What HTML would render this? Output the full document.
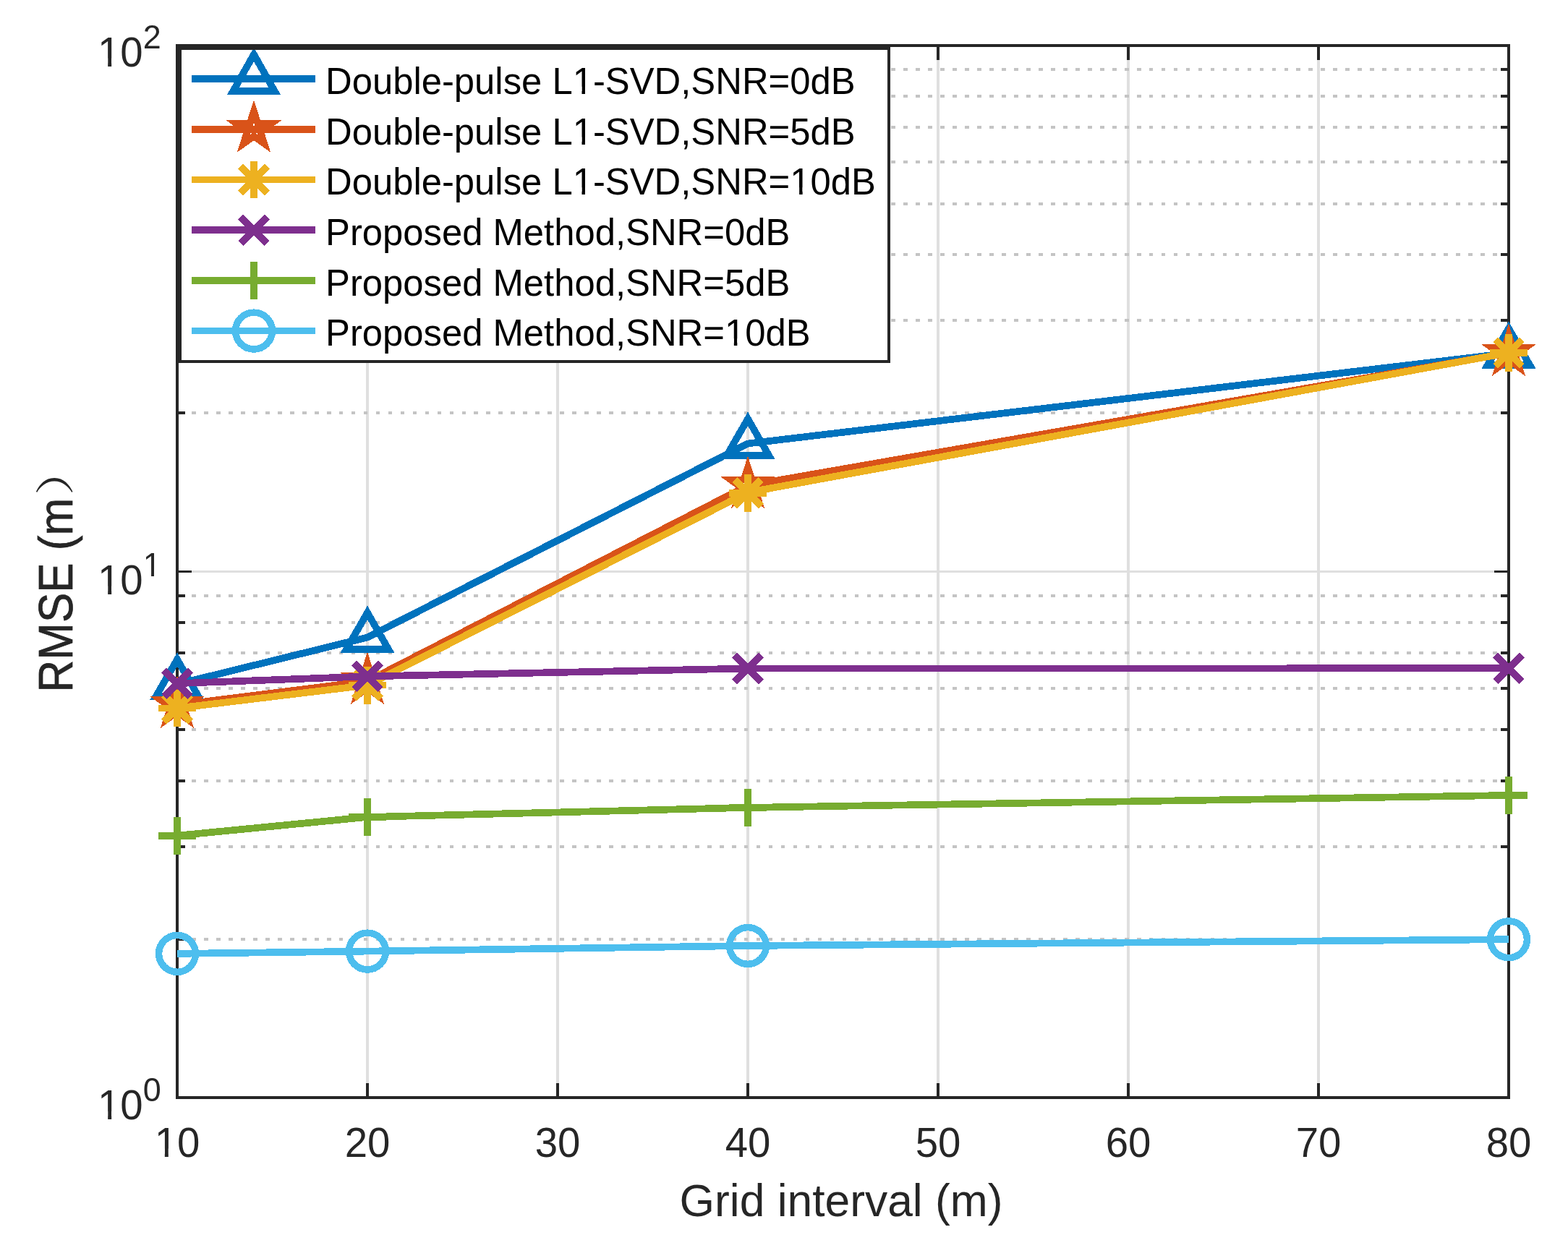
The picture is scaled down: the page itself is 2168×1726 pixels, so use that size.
<!DOCTYPE html>
<html lang="en">
<head>
<meta charset="utf-8">
<title>RMSE (m) vs Grid interval (m)</title>
<style>
html,body{margin:0;padding:0;background:#fff;}
body{width:2168px;height:1726px;overflow:hidden;}
svg{display:block;}
text{font-family:"Liberation Sans","Noto Sans CJK SC",sans-serif;font-kerning:none;}
.tk{font-size:56.4px;fill:#262626;}
.sp{font-size:45px;fill:#262626;}
.lb{font-size:62px;fill:#262626;}
.lg{font-size:50.8px;fill:#000;}
.fw{font-family:"Noto Serif CJK SC","Noto Sans CJK SC",serif;font-size:54px;stroke:none;}
.yl{stroke:#262626;stroke-width:0.7px;}
</style>
</head>
<body>
<svg width="2168" height="1726" viewBox="0 0 2168 1726" role="img" aria-label="RMSE versus grid interval">
<rect x="0" y="0" width="2168" height="1726" fill="#fff"/>
<defs>
<clipPath id="c1"><path d="M-3000 -3000H3000V3000H-3000ZM343.2 -9.92H354.48V0.99H343.2ZM358.97 -9.92H369.24V0.99H358.97Z" clip-rule="evenodd"/></clipPath>
<clipPath id="c2"><path d="M-3000 -3000H3000V3000H-3000ZM343.2 -9.92H354.48V0.99H343.2ZM358.97 -9.92H369.24V0.99H358.97Z" clip-rule="evenodd"/></clipPath>
<clipPath id="c3"><path d="M-3000 -3000H3000V3000H-3000ZM343.2 -9.92H354.48V0.99H343.2ZM358.97 -9.92H369.24V0.99H358.97ZM643.86 -9.92H655.14V0.99H643.86ZM659.63 -9.92H669.9V0.99H659.63Z" clip-rule="evenodd"/></clipPath>
<clipPath id="c4"><path d="M-3000 -3000H3000V3000H-3000ZM553.54 -9.92H564.83V0.99H553.54ZM569.32 -9.92H579.59V0.99H569.32Z" clip-rule="evenodd"/></clipPath>
<clipPath id="c5"><path d="M-3000 -3000H3000V3000H-3000ZM-29.71 -11.02H-17.18V1.1H-29.71ZM-12.2 -11.02H-0.8V1.1H-12.2Z" clip-rule="evenodd"/></clipPath>
<clipPath id="c6"><path d="M-3000 -3000H3000V3000H-3000ZM1.65 -11.02H14.18V1.1H1.65ZM19.17 -11.02H30.57V1.1H19.17Z" clip-rule="evenodd"/></clipPath>
<clipPath id="c7"><path d="M-3000 -3000H3000V3000H-3000ZM1.65 -11.02H14.18V1.1H1.65ZM19.17 -11.02H30.57V1.1H19.17ZM64.05 -33.18H74.05V-23.51H64.05ZM78.03 -33.18H87.12V-23.51H78.03Z" clip-rule="evenodd"/></clipPath>
<clipPath id="c8"><path d="M-3000 -3000H3000V3000H-3000ZM1.65 -11.02H14.18V1.1H1.65ZM19.17 -11.02H30.57V1.1H19.17Z" clip-rule="evenodd"/></clipPath>
</defs>
<g id="grid" shape-rendering="crispEdges">
<line x1="508" y1="63" x2="508" y2="1518" stroke="#dfdfdf" stroke-width="4"/>
<line x1="771" y1="63" x2="771" y2="1518" stroke="#dfdfdf" stroke-width="4"/>
<line x1="1034" y1="63" x2="1034" y2="1518" stroke="#dfdfdf" stroke-width="4"/>
<line x1="1297" y1="63" x2="1297" y2="1518" stroke="#dfdfdf" stroke-width="4"/>
<line x1="1560" y1="63" x2="1560" y2="1518" stroke="#dfdfdf" stroke-width="4"/>
<line x1="1823" y1="63" x2="1823" y2="1518" stroke="#dfdfdf" stroke-width="4"/>
<line x1="245" y1="790.5" x2="2086" y2="790.5" stroke="#dfdfdf" stroke-width="3"/>
<line x1="248.2" y1="1299" x2="2086" y2="1299" stroke="#c4c4c4" stroke-width="4" stroke-dasharray="5.66 11.31"/>
<line x1="248.2" y1="1171" x2="2086" y2="1171" stroke="#c4c4c4" stroke-width="4" stroke-dasharray="5.66 11.31"/>
<line x1="248.2" y1="1080" x2="2086" y2="1080" stroke="#c4c4c4" stroke-width="4" stroke-dasharray="5.66 11.31"/>
<line x1="248.2" y1="1009" x2="2086" y2="1009" stroke="#c4c4c4" stroke-width="4" stroke-dasharray="5.66 11.31"/>
<line x1="248.2" y1="952" x2="2086" y2="952" stroke="#c4c4c4" stroke-width="4" stroke-dasharray="5.66 11.31"/>
<line x1="248.2" y1="903" x2="2086" y2="903" stroke="#c4c4c4" stroke-width="4" stroke-dasharray="5.66 11.31"/>
<line x1="248.2" y1="861" x2="2086" y2="861" stroke="#c4c4c4" stroke-width="4" stroke-dasharray="5.66 11.31"/>
<line x1="248.2" y1="824" x2="2086" y2="824" stroke="#c4c4c4" stroke-width="4" stroke-dasharray="5.66 11.31"/>
<line x1="248.2" y1="571" x2="2086" y2="571" stroke="#c4c4c4" stroke-width="4" stroke-dasharray="5.66 11.31"/>
<line x1="248.2" y1="443" x2="2086" y2="443" stroke="#c4c4c4" stroke-width="4" stroke-dasharray="5.66 11.31"/>
<line x1="248.2" y1="352" x2="2086" y2="352" stroke="#c4c4c4" stroke-width="4" stroke-dasharray="5.66 11.31"/>
<line x1="248.2" y1="282" x2="2086" y2="282" stroke="#c4c4c4" stroke-width="4" stroke-dasharray="5.66 11.31"/>
<line x1="248.2" y1="224" x2="2086" y2="224" stroke="#c4c4c4" stroke-width="4" stroke-dasharray="5.66 11.31"/>
<line x1="248.2" y1="176" x2="2086" y2="176" stroke="#c4c4c4" stroke-width="4" stroke-dasharray="5.66 11.31"/>
<line x1="248.2" y1="133" x2="2086" y2="133" stroke="#c4c4c4" stroke-width="4" stroke-dasharray="5.66 11.31"/>
<line x1="248.2" y1="96" x2="2086" y2="96" stroke="#c4c4c4" stroke-width="4" stroke-dasharray="5.66 11.31"/>
</g>
<g id="axes" shape-rendering="crispEdges" stroke="#262626" stroke-width="4" fill="none">
<rect x="245" y="63" width="1841" height="1455"/>
<path d="M508 1518V1497.6M508 63V83.4M771 1518V1497.6M771 63V83.4M1034 1518V1497.6M1034 63V83.4M1297 1518V1497.6M1297 63V83.4M1560 1518V1497.6M1560 63V83.4M1823 1518V1497.6M1823 63V83.4M245 1299H256.2M2086 1299H2074.8M245 1171H256.2M2086 1171H2074.8M245 1080H256.2M2086 1080H2074.8M245 1009H256.2M2086 1009H2074.8M245 952H256.2M2086 952H2074.8M245 903H256.2M2086 903H2074.8M245 861H256.2M2086 861H2074.8M245 824H256.2M2086 824H2074.8M245 571H256.2M2086 571H2074.8M245 443H256.2M2086 443H2074.8M245 352H256.2M2086 352H2074.8M245 282H256.2M2086 282H2074.8M245 224H256.2M2086 224H2074.8M245 176H256.2M2086 176H2074.8M245 133H256.2M2086 133H2074.8M245 96H256.2M2086 96H2074.8"/>
<path d="M245 790.5H265.4M2086 790.5H2065.6" stroke-width="3"/>
</g>
<g id="data" shape-rendering="crispEdges">
<polyline points="245,946.2 508,881.5 1034,613.5 2086,488.4" fill="none" stroke="#0072bd" stroke-width="9.7" stroke-linejoin="round"/>
<path d="M245 912L274.3 962.95L215.7 962.95Z" fill="none" stroke="#0072bd" stroke-width="9.7" stroke-linejoin="miter" stroke-miterlimit="10"/>
<path d="M508 847.3L537.3 898.25L478.7 898.25Z" fill="none" stroke="#0072bd" stroke-width="9.7" stroke-linejoin="miter" stroke-miterlimit="10"/>
<path d="M1034 579.3L1063.3 630.25L1004.7 630.25Z" fill="none" stroke="#0072bd" stroke-width="9.7" stroke-linejoin="miter" stroke-miterlimit="10"/>
<path d="M2086 454.2L2115.3 505.15L2056.7 505.15Z" fill="none" stroke="#0072bd" stroke-width="9.7" stroke-linejoin="miter" stroke-miterlimit="10"/>
<polyline points="245,975.1 508,942.1 1034,671.5 2086,488.2" fill="none" stroke="#d95319" stroke-width="9.7" stroke-linejoin="round"/>
<path d="M245 950.1L250.61 967.37L268.78 967.37L254.08 978.05L259.4 994.92L245 984.65L230.6 994.92L235.92 978.05L221.22 967.37L239.39 967.37Z" fill="none" stroke="#d95319" stroke-width="9.5" stroke-linejoin="miter" stroke-miterlimit="10"/>
<path d="M508 917.1L513.61 934.37L531.78 934.37L517.08 945.05L522.4 961.92L508 951.65L493.6 961.92L498.92 945.05L484.22 934.37L502.39 934.37Z" fill="none" stroke="#d95319" stroke-width="9.5" stroke-linejoin="miter" stroke-miterlimit="10"/>
<path d="M1034 646.2L1039.61 663.47L1057.78 663.47L1043.08 674.15L1048.4 691.02L1034 680.75L1019.6 691.02L1024.92 674.15L1010.22 663.47L1028.39 663.47Z" fill="none" stroke="#d95319" stroke-width="9.5" stroke-linejoin="miter" stroke-miterlimit="10"/>
<path d="M2086 463.2L2091.61 480.47L2109.78 480.47L2095.08 491.15L2100.4 508.02L2086 497.75L2071.6 508.02L2076.92 491.15L2062.22 480.47L2080.39 480.47Z" fill="none" stroke="#d95319" stroke-width="9.5" stroke-linejoin="miter" stroke-miterlimit="10"/>
<polyline points="245,979.5 508,947.6 1034,681 2086,487.9" fill="none" stroke="#edb120" stroke-width="9.7" stroke-linejoin="round"/>
<path d="M219.1 979.5H270.9M245 953.6V1005.4M226.7 961.2L263.3 997.8M226.7 997.8L263.3 961.2" fill="none" stroke="#edb120" stroke-width="9.7"/>
<path d="M482.1 947.6H533.9M508 921.7V973.5M489.7 929.3L526.3 965.9M489.7 965.9L526.3 929.3" fill="none" stroke="#edb120" stroke-width="9.7"/>
<path d="M1008.1 681.7H1059.9M1034 655.8V707.6M1015.7 663.4L1052.3 700M1015.7 700L1052.3 663.4" fill="none" stroke="#edb120" stroke-width="9.7"/>
<path d="M2060.1 487.9H2111.9M2086 462V513.8M2067.7 469.6L2104.3 506.2M2067.7 506.2L2104.3 469.6" fill="none" stroke="#edb120" stroke-width="9.7"/>
<polyline points="245,945.2 508,935.4 1034,924.5 2086,924.3" fill="none" stroke="#7e2f8e" stroke-width="9.7" stroke-linejoin="round"/>
<path d="M226.7 926.9L263.3 963.5M226.7 963.5L263.3 926.9" fill="none" stroke="#7e2f8e" stroke-width="9.7"/>
<path d="M489.7 917.1L526.3 953.7M489.7 953.7L526.3 917.1" fill="none" stroke="#7e2f8e" stroke-width="9.7"/>
<path d="M1015.7 906.2L1052.3 942.8M1015.7 942.8L1052.3 906.2" fill="none" stroke="#7e2f8e" stroke-width="9.7"/>
<path d="M2067.7 906L2104.3 942.6M2067.7 942.6L2104.3 906" fill="none" stroke="#7e2f8e" stroke-width="9.7"/>
<polyline points="245,1155.7 508,1130 1034,1116.9 2086,1099.9" fill="none" stroke="#77ac30" stroke-width="9.7" stroke-linejoin="round"/>
<path d="M219.1 1155.7H270.9M245 1129.8V1181.6" fill="none" stroke="#77ac30" stroke-width="9.7"/>
<path d="M482.1 1130H533.9M508 1104.1V1155.9" fill="none" stroke="#77ac30" stroke-width="9.7"/>
<path d="M1008.1 1116.9H1059.9M1034 1091V1142.8" fill="none" stroke="#77ac30" stroke-width="9.7"/>
<path d="M2060.1 1099.9H2111.9M2086 1074V1125.8" fill="none" stroke="#77ac30" stroke-width="9.7"/>
<polyline points="245,1318.9 508,1315.6 1034,1308 2086,1299.2" fill="none" stroke="#4dbeee" stroke-width="9.7" stroke-linejoin="round"/>
<circle cx="245" cy="1318.9" r="25.4" fill="none" stroke="#4dbeee" stroke-width="9.5"/>
<circle cx="508" cy="1315.6" r="25.4" fill="none" stroke="#4dbeee" stroke-width="9.5"/>
<circle cx="1034" cy="1308" r="25.4" fill="none" stroke="#4dbeee" stroke-width="9.5"/>
<circle cx="2086" cy="1299.2" r="25.4" fill="none" stroke="#4dbeee" stroke-width="9.5"/>
</g>
<g id="legend" shape-rendering="crispEdges">
<rect x="249" y="67" width="980" height="433" fill="#fff"/>
<line x1="265" y1="109.1" x2="436" y2="109.1" stroke="#0072bd" stroke-width="9.7"/>
<path d="M351 75.3L379.6 125.85L322.4 125.85Z" fill="none" stroke="#0072bd" stroke-width="9.7" stroke-linejoin="miter" stroke-miterlimit="10"/>
<text class="lg" transform="translate(450 129.9) scale(1 1.012)" clip-path="url(#c1)">Double-pulse L1-SVD,SNR=0dB</text>
<line x1="265" y1="178.8" x2="436" y2="178.8" stroke="#d95319" stroke-width="9.7"/>
<path d="M351 153.8L356.61 171.07L374.78 171.07L360.08 181.75L365.4 198.62L351 188.35L336.6 198.62L341.92 181.75L327.22 171.07L345.39 171.07Z" fill="none" stroke="#d95319" stroke-width="9.5" stroke-linejoin="miter" stroke-miterlimit="10"/>
<text class="lg" transform="translate(450 199.6) scale(1 1.012)" clip-path="url(#c2)">Double-pulse L1-SVD,SNR=5dB</text>
<line x1="265" y1="248.5" x2="436" y2="248.5" stroke="#edb120" stroke-width="9.7"/>
<path d="M325.1 248.5H376.9M351 222.6V274.4M332.7 230.2L369.3 266.8M332.7 266.8L369.3 230.2" fill="none" stroke="#edb120" stroke-width="9.7"/>
<text class="lg" transform="translate(450 269.3) scale(1 1.012)" clip-path="url(#c3)">Double-pulse L1-SVD,SNR=10dB</text>
<line x1="265" y1="318.2" x2="436" y2="318.2" stroke="#7e2f8e" stroke-width="9.7"/>
<path d="M332.7 299.9L369.3 336.5M332.7 336.5L369.3 299.9" fill="none" stroke="#7e2f8e" stroke-width="9.7"/>
<text class="lg" transform="translate(450 339) scale(1 1.012)">Proposed Method,SNR=0dB</text>
<line x1="265" y1="387.9" x2="436" y2="387.9" stroke="#77ac30" stroke-width="9.7"/>
<path d="M325.1 387.9H376.9M351 362V413.8" fill="none" stroke="#77ac30" stroke-width="9.7"/>
<text class="lg" transform="translate(450 408.7) scale(1 1.012)">Proposed Method,SNR=5dB</text>
<line x1="265" y1="457.6" x2="436" y2="457.6" stroke="#4dbeee" stroke-width="9.7"/>
<circle cx="351" cy="457.6" r="25.4" fill="none" stroke="#4dbeee" stroke-width="9.5"/>
<text class="lg" transform="translate(450 478.4) scale(1 1.012)" clip-path="url(#c4)">Proposed Method,SNR=10dB</text>
<rect x="249" y="67" width="980" height="433" fill="none" stroke="#262626" stroke-width="4" shape-rendering="crispEdges"/>
</g>
<g id="ticklabels">
<text class="tk" transform="translate(245 1599.9) scale(1 1.025)" text-anchor="middle" clip-path="url(#c5)">10</text>
<text class="tk" transform="translate(508 1599.9) scale(1 1.025)" text-anchor="middle">20</text>
<text class="tk" transform="translate(771 1599.9) scale(1 1.025)" text-anchor="middle">30</text>
<text class="tk" transform="translate(1034 1599.9) scale(1 1.025)" text-anchor="middle">40</text>
<text class="tk" transform="translate(1297 1599.9) scale(1 1.025)" text-anchor="middle">50</text>
<text class="tk" transform="translate(1560 1599.9) scale(1 1.025)" text-anchor="middle">60</text>
<text class="tk" transform="translate(1823 1599.9) scale(1 1.025)" text-anchor="middle">70</text>
<text class="tk" transform="translate(2086 1599.9) scale(1 1.025)" text-anchor="middle">80</text>
<text class="tk" transform="translate(135 91.8) scale(1 1.025)" clip-path="url(#c6)">10<tspan class="sp" dy="-24.39">2</tspan></text>
<text class="tk" transform="translate(135 821.8) scale(1 1.025)" clip-path="url(#c7)">10<tspan class="sp" dy="-24.39">1</tspan></text>
<text class="tk" transform="translate(135 1548.4) scale(1 1.025)" clip-path="url(#c8)">10<tspan class="sp" dy="-24.39">0</tspan></text>
</g>
<g id="labels">
<text class="lb" transform="translate(1163 1681.9) scale(1.006 1.01)" text-anchor="middle">Grid interval (m)</text>
<text class="lb yl" transform="translate(99.7 957.5) rotate(-90) scale(1 1.075)">RMSE (m<tspan class="fw" style="font-size:50.08px" dx="3.65" dy="-3.39" textLength="69.61" lengthAdjust="spacingAndGlyphs">）</tspan></text>
</g>
</svg>
</body>
</html>
